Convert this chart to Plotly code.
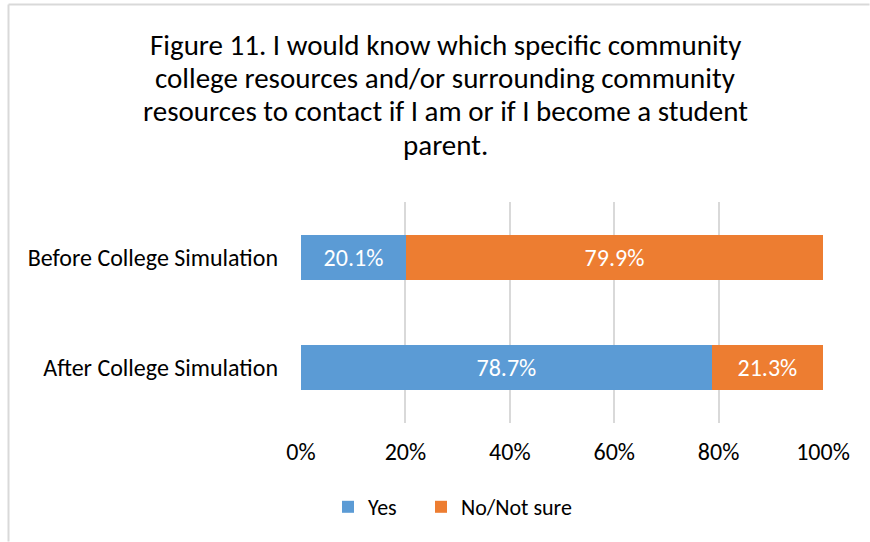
import plotly.graph_objects as go

# Survey responses (percent of students)
categories = ["Before College Simulation", "After College Simulation"]
yes_pct = [20.1, 78.7]
no_pct = [79.9, 21.3]
x_ticks = [0, 20, 40, 60, 80, 100]
x_tick_labels = ["0%", "20%", "40%", "60%", "80%", "100%"]

title_lines = [
    "Figure 11. I would know which specific community",
    "college resources and/or surrounding community",
    "resources to contact if I am or if I become a student",
    "parent.",
]

FONT = "Carlito, Calibri, Lato, sans-serif"
BLUE = "#5B9BD5"
ORANGE = "#ED7D31"
GRID = "#D9D9D9"
TXT = 24

fig = go.Figure()
fig.add_trace(go.Bar(
    y=categories, x=yes_pct, name="Yes", orientation="h", legend="legend",
    marker=dict(color=BLUE, line=dict(width=0)),
    texttemplate="%{x:.1f}%", textposition="inside", insidetextanchor="middle",
    textfont=dict(color="white", size=TXT, family=FONT),
))
fig.add_trace(go.Bar(
    y=categories, x=no_pct, name="No/Not sure", orientation="h", legend="legend2",
    marker=dict(color=ORANGE, line=dict(width=0)),
    texttemplate="%{x:.1f}%", textposition="inside", insidetextanchor="middle",
    textfont=dict(color="white", size=TXT, family=FONT),
))

# Plot area spans 301..823 px horizontally and 202..423 px vertically
PX0, PW, PY1, PH = 301, 522, 423, 221


def px_x(px):
    return (px - PX0) / PW


def px_y(py):
    return (PY1 - py) / PH


title_annotations = [
    dict(text=line, xref="paper", yref="paper",
         x=px_x(445), y=px_y(45 + i * 33.2), xanchor="center", yanchor="middle",
         showarrow=False, font=dict(size=29, family=FONT, color="#000000"))
    for i, line in enumerate(title_lines)
]

legend_style = dict(orientation="h", xanchor="left", yanchor="middle", y=px_y(507),
                    font=dict(size=22, family=FONT), itemwidth=30,
                    itemsizing="constant", bgcolor="rgba(0,0,0,0)")

fig.update_layout(
    width=870, height=542,
    barmode="stack", bargap=0.59,
    paper_bgcolor="white", plot_bgcolor="white",
    font=dict(family=FONT, size=TXT, color="#000000"),
    margin=dict(l=PX0, r=870 - PX0 - PW, t=PY1 - PH, b=542 - PY1, pad=0),
    showlegend=True,
    legend=dict(x=px_x(328), **legend_style),
    legend2=dict(x=px_x(421), **legend_style),
    xaxis=dict(range=[0, 100], tickvals=x_ticks, ticktext=x_tick_labels,
               showgrid=True, gridcolor=GRID, gridwidth=2, zeroline=False,
               showline=False, ticks="", ticklabelstandoff=12,
               tickfont=dict(size=TXT, family=FONT), fixedrange=True),
    yaxis=dict(categoryorder="array", categoryarray=categories, autorange="reversed",
               showgrid=False, zeroline=False, showline=False, ticks="",
               ticklabelstandoff=22, tickfont=dict(size=TXT, family=FONT),
               fixedrange=True),
    annotations=title_annotations,
    shapes=[
        dict(type="line", xref="paper", yref="paper",
             x0=px_x(8.5), x1=px_x(869.5), y0=px_y(4.5), y1=px_y(4.5),
             line=dict(color=GRID, width=2), layer="above"),
        dict(type="line", xref="paper", yref="paper",
             x0=px_x(8.5), x1=px_x(8.5), y0=px_y(4.5), y1=px_y(541.5),
             line=dict(color=GRID, width=2), layer="above"),
    ],
)

fig.write_html("out.html", config={"displayModeBar": False})
